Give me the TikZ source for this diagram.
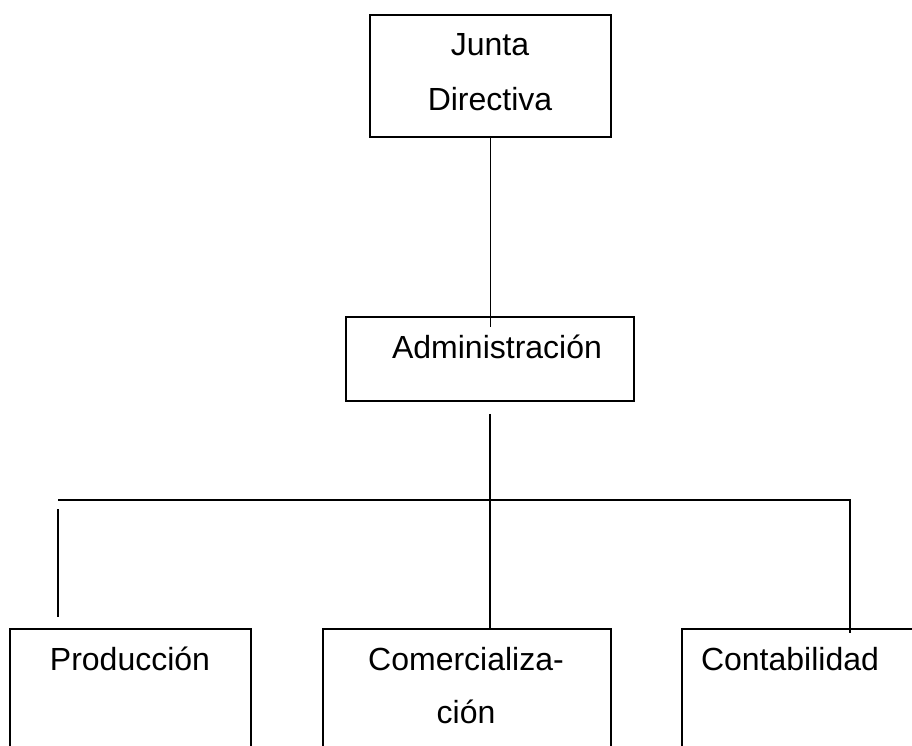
\documentclass[tikz,border=0pt]{standalone}
\usepackage{fontspec}
\setmainfont{Liberation Sans}
\usetikzlibrary{positioning}

\tikzset{
  caja/.style={draw, line width=1.9pt, inner sep=0pt},
  texto/.style={font=\fontsize{32}{53}\selectfont, inner sep=0pt, anchor=base},
  linea/.style={line width=1.9pt}
}

\begin{document}
\begin{tikzpicture}[x=1pt,y=-1pt]
  \useasboundingbox (0,0) rectangle (912,745);
  \clip (0,0) rectangle (912,745);
  % Cajas
  \node[caja, minimum width=241pt, minimum height=122pt] (junta) at (490.5,76) {};
  \node[caja, minimum width=288pt, minimum height=84pt] (admin) at (490,359) {};
  \node[caja, minimum width=241pt, minimum height=160pt] (prod) at (130.5,709) {};
  \node[caja, minimum width=288pt, minimum height=160pt] (com) at (467,709) {};
  \node[caja, minimum width=260pt, minimum height=160pt] (conta) at (812,709) {};
  % Textos
  \node[texto] (juntatxt) at (490,55) {Junta};
  \node[texto] (dirtxt) at (490,110) {Directiva};
  \node[texto] (admintxt) at (497,358) {Administración};
  \node[texto] (prodtxt) at (130,670) {Producción};
  \node[texto] (comtxt) at (466,670) {Comercializa-};
  \node[texto] (ciontxt) at (466,723) {ción};
  \node[texto] (contatxt) at (790,670) {Contabilidad};
  % Lineas
  \coordinate (admbaja) at ([yshift=-12pt]admin.south);
  \coordinate (busizq) at (58,500);
  \coordinate (busder) at (850,500);
  \draw[linea] (junta.south) -- ([yshift=-11pt]junta.south |- admin.north);
  \draw[linea] (admbaja) -- (admbaja |- com.north);
  \draw[linea] (busizq) -- (busder) -- ([yshift=-5pt]busder |- conta.north);
  \draw[linea] ([yshift=-9pt]busizq) -- ([yshift=11pt]busizq |- prod.north);
\end{tikzpicture}
\end{document}
